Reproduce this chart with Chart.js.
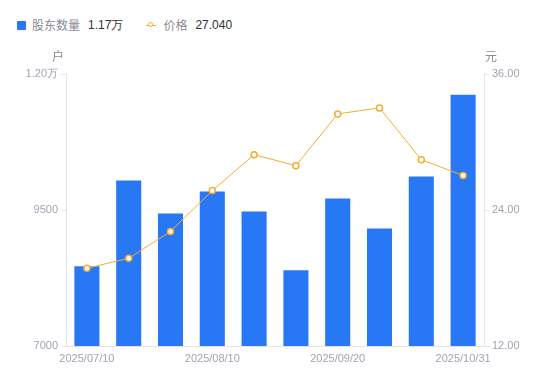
<!DOCTYPE html>
<html>
<head>
<meta charset="utf-8">
<script src="https://cdn.jsdelivr.net/npm/chart.js@4.4.1/dist/chart.umd.min.js"></script>
<style>
  html, body { margin: 0; padding: 0; background: #fff; }
  #wrap { position: relative; width: 550px; height: 381px; font-family: "Noto Sans CJK SC", "Noto Sans", sans-serif; }
  #legend { position: absolute; left: 17px; top: 17px; font-size: 12px; line-height: 16px; display: flex; align-items: center; white-space: nowrap; }
  #legend .item { display: flex; align-items: center; margin-right: 23px; }
  #legend .name { color: #8a8a96; margin-right: 8px; }
  #legend .val { color: #333; font-family: "Liberation Sans", sans-serif; font-size: 12px; }
  .sq { width: 9px; height: 9px; background: #2878f5; border-radius: 1px; margin-right: 6px; }
  .ln { position: relative; width: 10px; height: 10px; margin-right: 7px; }
  .ln:before { content: ""; position: absolute; left: 0; right: 0; top: 5px; height: 1px; background: #f5ac2f; }
  .ln:after { content: ""; position: absolute; left: 2px; top: 2px; width: 3px; height: 3px; border: 1.5px solid #f5ac2f; border-radius: 50%; background: #fff; }
  canvas { position: absolute; left: 0; top: 0; }
</style>
</head>
<body>
<div id="wrap">
  <div id="legend">
    <div class="item"><div class="sq"></div><span class="name">股东数量</span><span class="val">1.17万</span></div>
    <div class="item"><div class="ln"></div><span class="name">价格</span><span class="val">27.040</span></div>
  </div>
  <canvas id="chart" width="550" height="381"></canvas>
</div>
<script>
const dates = ["2025/07/10", "2025/07/20", "2025/07/31", "2025/08/10", "2025/08/20",
               "2025/08/31", "2025/09/20", "2025/09/30", "2025/10/20", "2025/10/31"];
const holders = [8465, 10040, 9436, 9839, 9473, 8392, 9711, 9161, 10114, 11620];
const prices = [18.86, 19.74, 22.11, 25.71, 28.88, 27.91, 32.48, 33.01, 28.44, 27.04];
const shownDates = [0, 3, 6, 9];

const tickColor = "#a3a3b3";
const lineColor = "#e3e3e8";

// unit labels above the two y axes
const unitLabels = {
    id: "unitLabels",
    afterDraw(chart) {
        const ctx = chart.ctx;
        ctx.save();
        ctx.font = "12px 'Noto Sans CJK SC', sans-serif";
        ctx.fillStyle = "#8a8a96";
        ctx.textBaseline = "middle";
        ctx.textAlign = "right";
        ctx.fillText("户", chart.scales.y.right - 2, 56);
        ctx.textAlign = "left";
        ctx.fillText("元", chart.scales.y1.left + 1, 56);
        ctx.restore();
    }
};

new Chart(document.getElementById("chart"), {
    plugins: [unitLabels],
    data: {
        labels: dates,
        datasets: [
            {
                type: "line",
                label: "价格",
                data: prices,
                yAxisID: "y1",
                borderColor: "#f5ac2f",
                borderWidth: 1,
                backgroundColor: "#fff",
                pointBorderColor: "#f5ac2f",
                pointBackgroundColor: "#fff",
                pointBorderWidth: 1.5,
                pointRadius: 3,
                tension: 0,
                order: 0
            },
            {
                type: "bar",
                label: "股东数量",
                data: holders,
                yAxisID: "y",
                backgroundColor: "#2878f5",
                barPercentage: 0.6,
                categoryPercentage: 1,
                order: 1
            }
        ]
    },
    options: {
        responsive: false,
        animation: false,
        layout: { padding: { top: 74, left: 0, right: 0, bottom: 0 } },
        plugins: {
            legend: { display: false },
            tooltip: { enabled: false }
        },
        scales: {
            x: {
                grid: { display: false, drawTicks: false },
                border: { color: lineColor },
                ticks: {
                    color: tickColor,
                    font: { size: 11, family: "'Liberation Sans', sans-serif" },
                    maxRotation: 0,
                    autoSkip: false,
                    padding: 6,
                    callback: function(v, i) { return shownDates.includes(i) ? dates[i] : ""; }
                },
                afterFit(scale) { scale.height = 35; }
            },
            y: {
                position: "left",
                min: 7000,
                max: 12000,
                grid: { display: true, drawOnChartArea: false, drawTicks: true, tickLength: 5, color: lineColor },
                border: { color: lineColor },
                ticks: {
                    color: tickColor,
                    font: { size: 11, family: "'Liberation Sans', sans-serif" },
                    stepSize: 2500,
                    padding: 3,
                    callback: v => v >= 10000 ? (v / 10000).toFixed(2) + "万" : String(v)
                },
                afterFit(scale) { scale.width = 66; }
            },
            y1: {
                position: "right",
                min: 12,
                max: 36,
                grid: { display: true, drawOnChartArea: false, drawTicks: true, tickLength: 5, color: lineColor },
                border: { color: lineColor },
                ticks: {
                    color: tickColor,
                    font: { size: 11, family: "'Liberation Sans', sans-serif" },
                    stepSize: 12,
                    padding: 3,
                    callback: v => v.toFixed(2)
                },
                afterFit(scale) { scale.width = 66; }
            }
        }
    }
});
</script>
</body>
</html>
